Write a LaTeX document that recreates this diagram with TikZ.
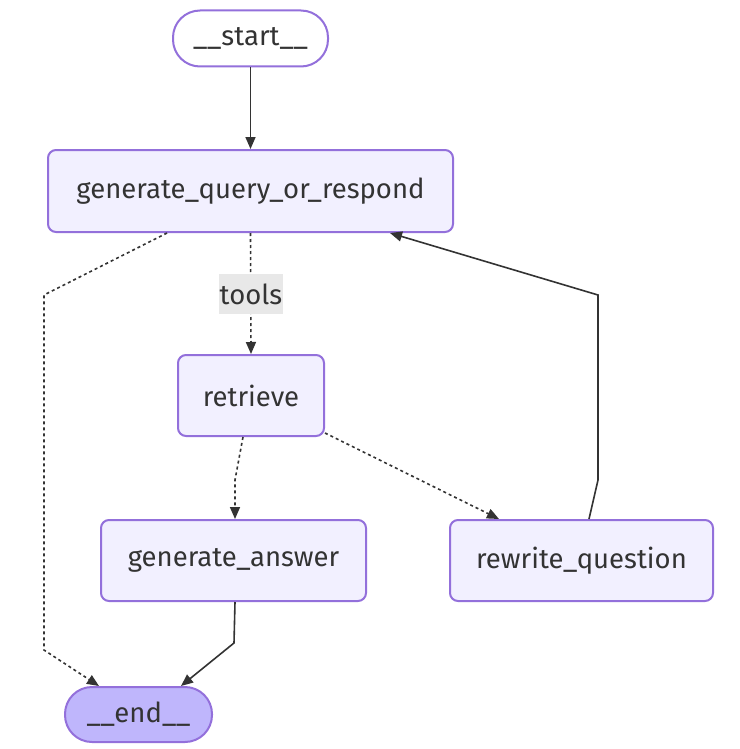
\documentclass[tikz,border=0pt]{standalone}
\usepackage{fontspec}
\setmainfont{Fira Sans}
\usetikzlibrary{arrows.meta,calc}
\definecolor{nodeborder}{HTML}{9370DB}
\definecolor{nodefill}{HTML}{F2F0FF}
\definecolor{endfill}{HTML}{BFB6FC}
\definecolor{edgecol}{HTML}{333333}
\definecolor{labelbg}{HTML}{E8E8E8}
\begin{document}
\begin{tikzpicture}[x=1pt,y=-1pt,
  every node/.style={font=\fontsize{27.5}{32}\selectfont, text=edgecol},
  box/.style={draw=nodeborder, fill=nodefill, line width=2pt, rounded corners=8pt, inner sep=0pt, minimum height=81pt},
  pill/.style={draw=nodeborder, line width=2pt, inner sep=0pt, minimum height=56pt, rounded corners=27pt},
  edge/.style={draw=edgecol, line width=1.6pt, -{Triangle[length=12pt,width=10pt]}},
  dotedge/.style={edge, dash pattern=on 3pt off 3pt},
  lbl/.style={fill=labelbg, inner sep=0pt, minimum width=64pt, minimum height=40pt}
]
\useasboundingbox (0,0) rectangle (739,749);
\node[pill, fill=white, minimum width=155pt] (start) at (250.5,38.5) {\_\_start\_\_};
\node[box, minimum width=405pt, minimum height=82pt] (gqr) at (250.5,191) {generate\_query\_or\_respond};
\node[box, minimum width=146pt] (ret) at (251,395.5) {retrieve};
\node[box, minimum width=265pt] (ga) at (233.5,560.5) {generate\_answer};
\node[box, minimum width=263pt] (rq) at (581.5,560.5) {rewrite\_question};
\node[pill, fill=endfill, minimum width=147pt, minimum height=55pt] (endn) at (138.5,714.5) {\_\_end\_\_};

\coordinate (a1) at (44,295);
\coordinate (a2) at (44,650);
\coordinate (r1) at (598,480);
\coordinate (r2) at (598,295);
\coordinate (g1) at (235,480);
\coordinate (e1) at (234,643);

\draw[edge] (start.south) -- (gqr.north);
\draw[dotedge] ($(gqr.south west)+(120,0)$) -- (a1) -- (a2) -- ($(endn.north west)+(35,0)$);
\draw[dotedge] (gqr.south) -- (ret.north);
\node[lbl] (tools) at (251,294) {tools};
\draw[dotedge] ($(ret.south)+(-8,0)$) -- (g1) -- (ga.north -| g1);
\draw[dotedge] ($(ret.south east)+(0,-4)$) -- ($(rq.north west)+(50,0)$);
\draw[edge] ($(rq.north west)+(140,0)$) -- (r1) -- (r2) -- ($(gqr.south west)+(343,0)$);
\draw[edge] (ga.south -| g1) -- (e1) -- ($(endn.north east)+(-32,0)$);
\end{tikzpicture}
\end{document}
